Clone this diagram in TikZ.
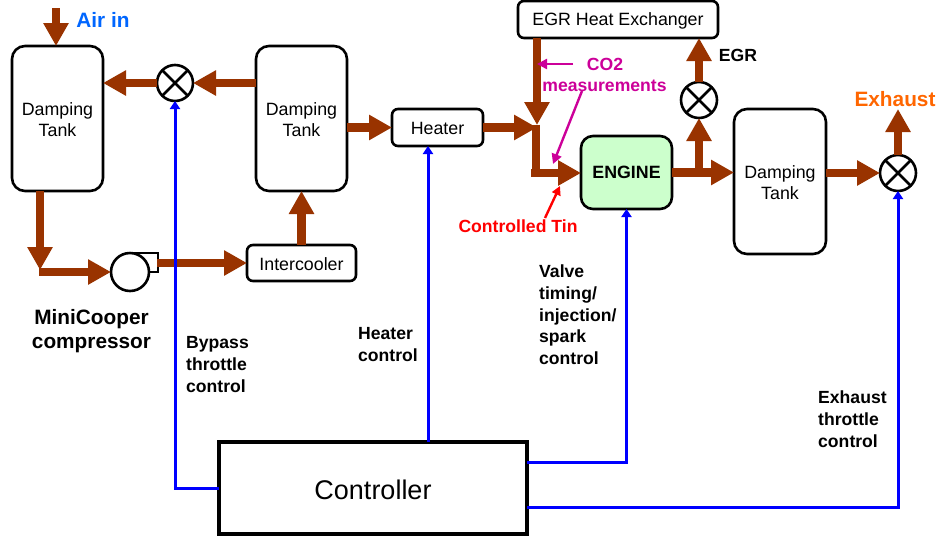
\documentclass[tikz,border=0pt]{standalone}
\usepackage{fontspec}
\setmainfont{Liberation Sans}
\usetikzlibrary{arrows.meta,calc}
\definecolor{flowc}{HTML}{993300}
\definecolor{ctrl}{HTML}{0000FF}
\definecolor{pinkc}{HTML}{CC0099}
\definecolor{airc}{HTML}{0066FF}
\definecolor{exhc}{HTML}{FF6600}
\definecolor{engc}{HTML}{CCFFCC}
\tikzset{
  x=1pt,y=-1pt,
  box/.style={draw=black,line width=2.6pt,rounded corners=#1,outer sep=0pt,inner sep=0pt,align=center},
  box/.default=6pt,
  say/.style={label={[inner sep=0pt,align=center,yshift=-1pt,font=\fontsize{17.8}{21}\selectfont]center:{#1}}},
  tank/.style={box=13pt,minimum width=91pt,minimum height=145pt,say={Damping\\Tank}},
  valve/.style={circle,draw=black,line width=2.6pt,minimum size=36pt,inner sep=0pt,outer sep=0pt,
    path picture={\draw[line width=2.6pt] (path picture bounding box.north west)--(path picture bounding box.south east)
      (path picture bounding box.north east)--(path picture bounding box.south west);}},
  flow/.style={draw=flowc,line width=8.5pt,-{Triangle[width=24pt,length=23pt]}},
  flowplain/.style={draw=flowc,line width=8.5pt},
  sig/.style={draw=ctrl,line width=3pt,-{Triangle[width=10pt,length=8pt]}},
  lab/.style={font=\bfseries\fontsize{17.6}{21.8}\selectfont,inner sep=0pt,align=#1},
  lab/.default=left,
  big/.style={font=\bfseries\fontsize{20.8}{25}\selectfont,inner sep=0pt,align=left},
}
\begin{document}
\begin{tikzpicture}
\useasboundingbox (0,0) rectangle (937,539);
% nodes
\node[tank] (t1) at (57.5,118.5) {};
\node[tank] (t2) at (301.5,118.5) {};
\node[tank,minimum width=92pt] (t3) at (780,181.5) {};
\node[valve] (v1) at (175,83) {};
\node[valve] (v2) at (699,100) {};
\node[valve] (v3) at (898,173) {};
\node[box,minimum width=109pt,minimum height=36pt,say=Intercooler] (ic) at (301.5,263) {};
\node[box,minimum width=91pt,minimum height=37pt,say=Heater] (heater) at (437.5,127.5) {};
\node[box,minimum width=200pt,minimum height=37pt,say=EGR Heat Exchanger] (egr) at (618,19.5) {};
\node[box=12pt,fill=engc,minimum width=91pt,minimum height=73pt,font=\bfseries\fontsize{17.8}{21}\selectfont] (eng) at (626.5,172.5) {ENGINE};
\node[draw=black,line width=3.2pt,outer sep=0pt,minimum width=308pt,minimum height=92pt,label={[inner sep=0pt,yshift=-1.5pt,font=\fontsize{27}{32}\selectfont]center:Controller}] (ctl) at (373,488) {};
\node[circle,draw=black,line width=2.6pt,minimum size=38pt,inner sep=0pt,outer sep=0pt] (comp) at (130,272) {};
\coordinate (airstart) at (56,8);
\coordinate (c1) at (40,270);
\coordinate (c1s) at (39,272);
\coordinate (jn) at (537,125);
\coordinate (jn2) at (536,173);
\coordinate (exh) at (898,109);
\coordinate (compout) at (157,263);
% compressor outlet
\draw[line width=2.6pt,line join=miter] (comp.north) -- (158,253) -- (158,272) -- (148,272);
% thick flow
\draw[flow] (airstart) -- (airstart |- t1.north);
\draw[flow] (v1.west) -- (t1.east |- v1);
\draw[flow] (t2.west |- v1) -- (v1.east);
\draw[flow] (t1.south -| c1) -- (c1);
\draw[flow] (c1s) -- (comp.west);
\draw[flow] (compout) -- (ic.west);
\draw[flow] (ic.north) -- (t2.south);
\draw[flow] (t2.east |- heater) -- (heater.west);
\draw[flow] (heater.east) -- (jn |- heater);
\draw[flow] (egr.south -| jn) -- (jn);
\draw[flowplain] (jn |- heater) ++(-1,-3) -- (jn2);
\draw[flow] (531,173) -- (eng.west |- 0,173);
\draw[flow] (eng.east) -- (t3.west |- eng);
\draw[flow] (v2 |- eng) -- (v2.south);
\draw[flow] (v2.north) -- (v2 |- egr.south);
\draw[flow] (t3.east |- v3) -- (v3.west);
\draw[flow] (v3.north) -- (exh);
% control
\draw[sig] (ctl.west) -- (175,488) -- (v1.south);
\draw[sig] (heater.south |- ctl.north) ++(-9.5,0) -- ++(0,-296);
\draw[sig] (ctl.east |- 0,462) -- (eng.south |- 0,462) -- (eng.south);
\draw[sig] (ctl.east |- 0,507) -- (v3.south |- 0,507) -- (v3.south);
% annotations
\draw[pinkc,line width=2.4pt,-{Triangle[width=10pt,length=10pt]}] (573,64) -- (537,64);
\draw[pinkc,line width=2.4pt,-{Triangle[width=10pt,length=10pt]}] (582,91) -- (553,164);
\draw[red,line width=2.4pt,-{Triangle[width=9pt,length=9pt]}] (545,218) -- (560,186);
% labels
\node[big,text=airc] (air) at (103,20) {Air in};
\node[big,text=exhc] (ex) at (895,99) {Exhaust};
\node[big,align=center,anchor=north] (mc) at (91.5,309) {MiniCooper\\[-0.5pt]compressor};
\node[lab=center,text=pinkc] (co) at (605,64.5) {CO2};
\node[lab=center,text=pinkc] (me) at (604.5,85.5) {measurements};
\node[lab,text=red] (tin) at (518,226) {Controlled Tin};
\node[lab] (egrl) at (738,55) {EGR};
\node[lab,anchor=north west] (bp) at (186,336.5) {Bypass\\throttle\\control};
\node[lab,anchor=north west] (hc) at (358,327.5) {Heater\\control};
\node[lab,anchor=north west] (vt) at (539,264.5) {Valve\\timing/\\injection/\\spark\\control};
\node[lab,anchor=north west] (et) at (818,390.5) {Exhaust\\throttle\\control};
\end{tikzpicture}
\end{document}
